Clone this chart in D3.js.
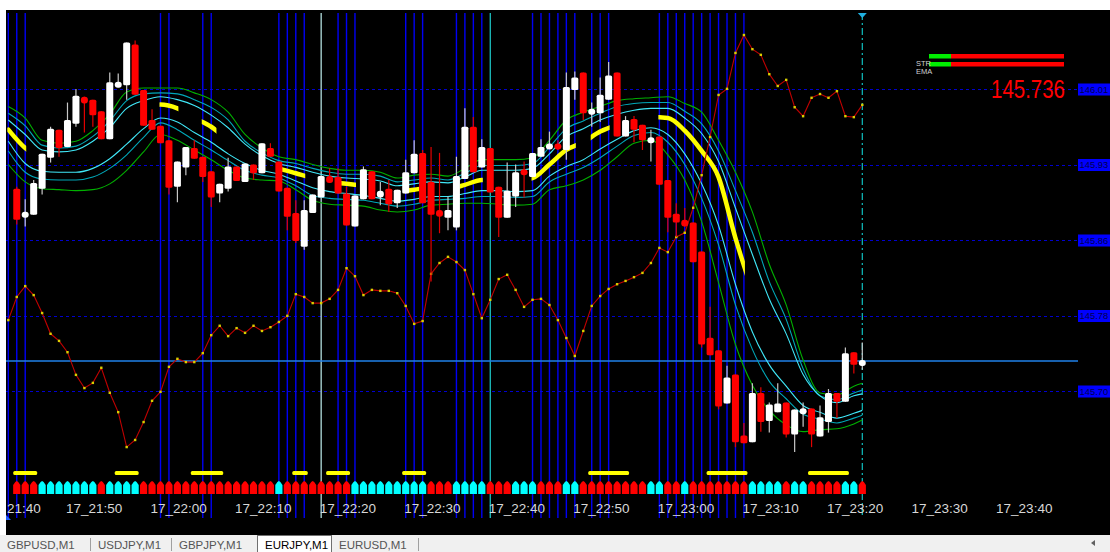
<!DOCTYPE html>
<html><head><meta charset="utf-8">
<script src="https://cdn.jsdelivr.net/npm/d3@7"></script>
<style>html,body{margin:0;padding:0;background:#fff;overflow:hidden}svg{display:block}</style>
</head><body>
<svg id="c" width="1110" height="552"></svg>
<script>
// ---------- DATA ----------
const openP=[145.914,145.885,145.887,145.914,145.946,145.975,145.957,145.981,146.009,146.006,145.994,145.965,146.019,146.021,146.063,146.016,145.985,145.979,145.964,145.916,145.936,145.956,145.947,145.932,145.909,145.914,145.937,145.921,145.939,145.930,145.956,145.942,145.915,145.889,145.854,145.889,145.905,145.927,145.926,145.909,145.875,145.903,145.932,145.905,145.914,145.899,145.909,145.930,145.951,145.921,145.892,145.884,145.874,145.924,145.978,145.936,145.956,145.916,145.884,145.906,145.933,145.926,145.947,145.955,145.960,145.954,146.016,146.034,145.991,145.992,146.006,146.034,145.968,145.986,145.980,145.962,145.968,145.923,145.888,145.882,145.879,145.849,145.760,145.747,145.692,145.722,145.659,145.652,145.703,145.674,145.683,145.693,145.660,145.681,145.687,145.658,145.673,145.703,145.694,145.745,145.732];
const highP=[145.916,145.903,145.923,145.950,145.978,145.975,146.003,146.017,146.009,146.006,145.994,146.034,146.033,146.065,146.067,146.016,145.996,145.979,145.964,145.942,145.957,145.964,145.947,145.932,145.919,145.946,145.937,145.940,145.939,145.961,145.961,145.942,145.915,145.902,145.902,145.908,145.927,145.935,145.935,145.916,145.907,145.937,145.932,145.921,145.923,145.913,145.944,145.964,145.954,145.957,145.951,145.906,145.947,145.997,145.988,145.965,145.956,145.916,145.941,145.939,145.942,145.951,145.965,145.973,145.964,146.034,146.035,146.034,146.003,146.029,146.045,146.034,145.989,145.989,145.980,145.975,145.968,145.923,145.899,145.894,145.879,145.849,145.792,145.747,145.731,145.722,145.672,145.713,145.709,145.693,145.713,145.693,145.686,145.693,145.687,145.690,145.707,145.703,145.750,145.745,145.755];
const lowP=[145.877,145.875,145.887,145.908,145.941,145.947,145.957,145.978,145.972,145.978,145.965,145.965,146.019,146.006,146.011,145.979,145.975,145.961,145.908,145.900,145.928,145.945,145.921,145.895,145.900,145.911,145.922,145.921,145.923,145.930,145.947,145.911,145.871,145.858,145.851,145.889,145.905,145.920,145.909,145.876,145.875,145.903,145.903,145.897,145.890,145.894,145.909,145.930,145.899,145.818,145.868,145.871,145.871,145.924,145.931,145.936,145.910,145.864,145.884,145.895,145.905,145.926,145.947,145.955,145.954,145.944,146.006,145.985,145.978,145.983,146.006,145.968,145.968,145.962,145.954,145.942,145.918,145.869,145.864,145.875,145.838,145.750,145.742,145.686,145.692,145.647,145.651,145.652,145.663,145.662,145.683,145.657,145.642,145.668,145.647,145.658,145.662,145.677,145.694,145.723,145.727];
const closeP=[145.882,145.889,145.920,145.950,145.976,145.956,145.985,146.010,146.002,145.990,145.965,146.024,146.024,146.065,146.011,145.979,145.975,145.961,145.915,145.942,145.957,145.945,145.926,145.905,145.919,145.937,145.922,145.940,145.930,145.961,145.947,145.911,145.885,145.860,145.892,145.908,145.927,145.920,145.909,145.876,145.907,145.934,145.903,145.912,145.898,145.913,145.931,145.950,145.899,145.887,145.885,145.892,145.927,145.978,145.931,145.957,145.910,145.884,145.912,145.931,145.929,145.951,145.957,145.960,145.955,146.019,146.029,145.992,145.996,146.011,146.031,145.968,145.985,145.975,145.964,145.966,145.918,145.884,145.879,145.875,145.838,145.753,145.742,145.689,145.719,145.652,145.651,145.703,145.673,145.691,145.692,145.660,145.686,145.687,145.660,145.678,145.703,145.694,145.744,145.732,145.736];
const oscV=[34.3,39.2,41.5,39.6,35.8,31.4,29.9,27.5,22.7,19.9,21.0,24.2,18.9,14.8,7.4,8.9,12.7,17.2,19.1,24.4,26.1,25.4,25.4,27.3,31.1,33.1,30.9,32.6,31.6,33.1,32.0,32.8,33.9,35.2,39.8,39.2,37.9,37.9,38.8,40.7,45.3,43.6,39.6,40.7,40.5,40.5,40.0,37.3,33.5,34.1,44.1,46.4,47.7,46.6,44.9,39.8,34.7,38.6,43.0,43.9,40.7,37.1,38.6,38.8,37.5,34.3,30.5,26.7,32.0,37.3,39.4,40.9,41.9,42.6,43.4,44.3,46.4,49.6,48.7,51.9,52.8,58.1,65.0,73.1,82.0,83.3,90.9,94.7,91.7,90.5,86.4,83.9,85.2,79.4,77.5,81.4,82.2,81.4,82.8,77.5,77.3,79.9];
const bandBars=[0,2,4,6,8,10,12,14,16,18,20,22,24,26,28,30,32,34,36,38,40,42,44,46,48,50,52,54,56,58,60,62,64,66,68,70,72,74,76,78,80,82,84,86,88,90,92,94,96,98,100,101];
const greenUp=[145.999,145.987,145.964,145.961,145.963,145.974,145.991,146.014,146.018,146.018,146.018,146.013,146.006,145.993,145.970,145.956,145.947,145.944,145.939,145.935,145.933,145.933,145.931,145.925,145.928,145.929,145.927,145.935,145.944,145.944,145.944,145.946,145.964,145.985,145.993,145.999,146.005,146.007,146.008,146.009,146.002,145.993,145.964,145.931,145.890,145.836,145.794,145.737,145.703,145.701,145.710,145.713];
const greenDn=[145.939,145.921,145.914,145.913,145.912,145.913,145.919,145.933,145.952,145.970,145.964,145.954,145.944,145.933,145.925,145.923,145.922,145.913,145.902,145.898,145.897,145.896,145.892,145.890,145.892,145.897,145.898,145.899,145.899,145.898,145.897,145.898,145.913,145.917,145.923,145.933,145.947,145.961,145.964,145.949,145.923,145.880,145.817,145.753,145.711,145.685,145.670,145.663,145.665,145.666,145.671,145.675];
const tealUp=[145.992,145.979,145.959,145.956,145.958,145.968,145.984,146.005,146.012,146.013,146.012,146.006,145.998,145.985,145.963,145.951,145.943,145.940,145.935,145.931,145.929,145.929,145.927,145.921,145.923,145.925,145.923,145.930,145.938,145.938,145.938,145.940,145.957,145.976,145.984,145.992,145.999,146.002,146.003,146.003,145.994,145.981,145.953,145.912,145.869,145.818,145.779,145.728,145.700,145.696,145.703,145.706];
const cyanUp=[145.985,145.970,145.954,145.952,145.954,145.963,145.977,145.997,146.005,146.009,146.006,146.000,145.990,145.977,145.960,145.948,145.940,145.936,145.931,145.927,145.925,145.924,145.922,145.917,145.919,145.921,145.920,145.926,145.933,145.933,145.933,145.935,145.950,145.968,145.976,145.985,145.991,145.995,145.997,145.997,145.987,145.971,145.942,145.894,145.846,145.800,145.764,145.722,145.700,145.693,145.700,145.702];
const cyanDn=[145.963,145.940,145.932,145.931,145.931,145.935,145.945,145.960,145.976,145.987,145.983,145.972,145.962,145.950,145.940,145.933,145.929,145.922,145.915,145.911,145.909,145.907,145.904,145.901,145.903,145.906,145.906,145.909,145.912,145.912,145.911,145.912,145.927,145.937,145.944,145.955,145.965,145.974,145.977,145.970,145.950,145.919,145.876,145.815,145.766,145.732,145.710,145.690,145.683,145.677,145.682,145.685];
const tealDn=[145.953,145.931,145.924,145.923,145.923,145.926,145.935,145.949,145.967,145.982,145.975,145.964,145.954,145.943,145.933,145.928,145.925,145.917,145.907,145.904,145.903,145.902,145.899,145.896,145.898,145.902,145.903,145.904,145.906,145.906,145.905,145.906,145.921,145.929,145.936,145.946,145.958,145.969,145.972,145.962,145.939,145.904,145.856,145.794,145.748,145.715,145.697,145.681,145.676,145.672,145.677,145.680];
const midL=[145.975,145.956,145.946,145.944,145.946,145.954,145.966,145.983,145.995,146.001,145.997,145.987,145.978,145.964,145.952,145.942,145.935,145.930,145.925,145.921,145.919,145.917,145.915,145.911,145.913,145.915,145.914,145.918,145.923,145.923,145.923,145.925,145.939,145.954,145.962,145.973,145.980,145.985,145.988,145.987,145.974,145.953,145.926,145.863,145.809,145.768,145.737,145.711,145.696,145.687,145.691,145.694];
const yellowSpans=[[0,2],[18,20],[23,24.5],[32,35],[39,41],[47,48.5],[53.5,56],[62,67],[69,71],[77,87]];
const signalBars=[[1,3],[13,15],[22,25],[34,35],[38,40],[47,49],[69,73],[83,87],[95,99]];
const markerCol="RRRCCCCCCCRCCCCRRRRRRRRRRRRRRRRCRRRRRRRRCCCCCCCCCRRRCCCCRRRCCCRRRCCRRRRRRRRCCRRCRRRRRRRCCCCRCCRRRRCCR";
const vBlue=[0,1,2,18,19,23,24,32,33,34,35,39,40,41,47,48,49,53,54,55,56,62,63,64,65,66,67,69,70,71,77,78,79,80,81,82,83,84,85,86,87];
const vCyan=[37,57];
const priceTicks=[145.705,145.783,145.861,145.939,146.017];
const lastPrice=145.736;
const tabs=["GBPUSD,M1","USDJPY,M1","GBPJPY,M1","EURJPY,M1","EURUSD,M1"];

// ---------- SCALES ----------
const t0=new Date(2000,0,17,21,43);
const tm=k=>new Date(t0.getTime()+k*60000);
const x=d3.scaleTime().domain([tm(0),tm(101)]).range([8.3,862.3]);
const xb=k=>x(tm(k));
const y=d3.scaleLinear().domain([145.705,146.017]).range([391,89]);
const oy=d3.scaleLinear().domain([0,100]).range([482,10]);
const FONT="'Liberation Sans',Arial,sans-serif";

const svg=d3.select("#c");
svg.append("rect").attr("width",1110).attr("height",552).attr("fill","#fff");
svg.append("rect").attr("x",6).attr("y",10).attr("width",1104).attr("height",525).attr("fill","#000");
const defs=svg.append("defs");
defs.append("clipPath").attr("id","plot").append("rect").attr("x",6).attr("y",10).attr("width",1072).attr("height",525);
const ycp=defs.append("clipPath").attr("id","ycl");
yellowSpans.forEach(s=>ycp.append("rect").attr("x",xb(s[0])-1).attr("y",0).attr("width",xb(s[1])-xb(s[0])+2).attr("height",552));

const g=svg.append("g").attr("clip-path","url(#plot)");
// grid
g.selectAll(".gr").data(priceTicks).enter().append("line")
 .attr("x1",6).attr("x2",1078).attr("y1",d=>Math.round(y(d))+0.5).attr("y2",d=>Math.round(y(d))+0.5)
 .attr("stroke","#0000d0").attr("stroke-dasharray","3,3");
// vertical lines
g.selectAll(".vb").data(vBlue).enter().append("line")
 .attr("x1",d=>xb(d)).attr("x2",d=>xb(d)).attr("y1",13).attr("y2",518).attr("stroke","#0000f4").attr("stroke-width",1.4);
g.selectAll(".vc").data(vCyan).enter().append("line")
 .attr("x1",d=>xb(d)).attr("x2",d=>xb(d)).attr("y1",13).attr("y2",518).attr("stroke",(d,i)=>i?"#20d0d0":"#c0f0f0").attr("stroke-width",1.2);
g.append("line").attr("x1",xb(101)).attr("x2",xb(101)).attr("y1",13).attr("y2",518)
 .attr("stroke","#10c0c0").attr("stroke-width",1.2).attr("stroke-dasharray","7,3,2,3");
g.append("path").attr("d",`M${xb(101)-4.5},13 L${xb(101)+4.5},13 L${xb(101)},18 Z`).attr("fill","#20b0e0");
// price line
g.append("line").attr("x1",6).attr("x2",1078).attr("y1",Math.round(y(lastPrice))).attr("y2",Math.round(y(lastPrice)))
 .attr("stroke","#1f80e8").attr("stroke-width",1.6);

// bands
const lineGen=arr=>d3.line().x((d,i)=>xb(bandBars[i])).y(d=>y(d)).curve(d3.curveMonotoneX)(arr);
[[greenUp,"#00b000"],[tealUp,"#00a8b8"],[cyanUp,"#40e8f8"],[cyanDn,"#40e8f8"],[tealDn,"#00a8b8"],[greenDn,"#00b000"]].forEach(([a,c])=>{
  g.append("path").attr("d",lineGen(a)).attr("fill","none").attr("stroke",c).attr("stroke-width",1.1);
});
g.append("path").attr("d",lineGen(midL)).attr("fill","none").attr("stroke","#ffff00").attr("stroke-width",4.5)
 .attr("stroke-linecap","round").attr("clip-path","url(#ycl)");

// oscillator
g.append("path").attr("d",d3.line().x((d,i)=>xb(i)).y(d=>oy(d))(oscV)).attr("fill","none").attr("stroke","#c00000").attr("stroke-width",1.1);
g.selectAll(".od").data(oscV).enter().append("rect").attr("x",(d,i)=>xb(i)-1.2).attr("y",d=>oy(d)-1.2).attr("width",2.4).attr("height",2.4).attr("fill","#d8d000");

// candles
const candles=openP.map((o,i)=>({k:i+1,o,h:highP[i],l:lowP[i],c:closeP[i]}));
const cg=g.selectAll(".cd").data(candles).enter().append("g");
cg.append("line").attr("x1",d=>xb(d.k)).attr("x2",d=>xb(d.k)).attr("y1",d=>y(d.h)).attr("y2",d=>y(d.l))
 .attr("stroke",d=>d.c>=d.o?"#c8c8c8":"#e00000").attr("stroke-width",1.2);
cg.append("rect").attr("x",d=>xb(d.k)-3.5).attr("width",7)
 .attr("y",d=>{const t=y(Math.max(d.o,d.c)),b=y(Math.min(d.o,d.c));return b-t<6?(t+b)/2-3:t;})
 .attr("height",d=>Math.max(6,y(Math.min(d.o,d.c))-y(Math.max(d.o,d.c))))
 .attr("rx",d=>(y(Math.min(d.o,d.c))-y(Math.max(d.o,d.c)))<7?3:1.5)
 .attr("fill",d=>d.c>=d.o?"#ffffff":"#ff0000");

// signal bars
g.selectAll(".sb").data(signalBars).enter().append("rect").attr("x",d=>xb(d[0])-3.5).attr("width",d=>xb(d[1])-xb(d[0])+7)
 .attr("y",471).attr("height",4).attr("rx",1.5).attr("fill","#ffff00");
// markers
g.selectAll(".mk").data(markerCol.split("")).enter().append("path")
 .attr("d",(d,i)=>{const cx=xb(i+1);return `M${cx-3.6},494 L${cx-3.6},485 L${cx-1.5},482 L${cx},481 L${cx+1.5},482 L${cx+3.6},485 L${cx+3.6},494 Z`;})
 .attr("fill",d=>d==="R"?"#ff0000":"#00ffff");

// time axis: the first label only shows its visible part, as in the terminal
const tickT=d3.range(-3,118,10).map(tm);
const fmtFull=d3.timeFormat("%d_%H:%M"), fmtShort=d3.timeFormat("%H:%M");
const ax=svg.append("g").attr("transform","translate(0,500)")
 .call(d3.axisBottom(x).tickValues(tickT).tickFormat(d=>x(d)<20?fmtShort(d):fmtFull(d)).tickSize(0).tickPadding(3));
ax.select(".domain").remove();
ax.selectAll("text").attr("text-anchor","start").attr("x",d=>x(d)<20?6.5-x(d):-2).attr("fill","#d8d8d8")
 .style("font-family",FONT).style("font-size","13.5px");
svg.append("path").attr("d","M6,515 L11,520 L6,520 Z").attr("fill","#2060ff");

// price axis (labels shown truncated to two decimals as in the terminal)
const trunc2=v=>(Math.floor(v*100+1e-6)/100).toFixed(2);
const pa=svg.append("g").attr("transform","translate(1078,0)")
 .call(d3.axisRight(y).tickValues(priceTicks).tickFormat(trunc2).tickSize(0).tickPadding(1.5));
pa.select(".domain").remove();
pa.selectAll(".tick").insert("rect","text").attr("x",0).attr("y",-6).attr("width",32).attr("height",12).attr("fill","#0000ff");
pa.selectAll("text").attr("fill","#000050").style("font-family",FONT).style("font-size","9.4px");

// legend top-right
[54,62].forEach(yy=>{
  svg.append("rect").attr("x",929).attr("y",yy).attr("width",22).attr("height",4.5).attr("fill","#00ee00");
  svg.append("rect").attr("x",951).attr("y",yy).attr("width",113).attr("height",4.5).attr("fill","#ff0000");
});
svg.append("text").attr("x",916).attr("y",66).text("STR").attr("fill","#d0d0d0").style("font-family",FONT).style("font-size","7.5px");
svg.append("text").attr("x",916).attr("y",74).text("EMA").attr("fill","#d0d0d0").style("font-family",FONT).style("font-size","7.5px");
svg.append("text").attr("x",991).attr("y",98).text(d3.format(".3f")(lastPrice)).attr("fill","#ff0000")
 .attr("textLength",74).attr("lengthAdjust","spacingAndGlyphs").style("font-family",FONT).style("font-size","25px");

// tab bar
svg.append("rect").attr("x",0).attr("y",535).attr("width",1110).attr("height",17).attr("fill","#f0f0f0");
const tabX=[0,90,171,257,331,418];
tabs.forEach((t,i)=>{
  const active=i===3;
  if(active){svg.append("rect").attr("x",tabX[i]+0.5).attr("y",535.5).attr("width",tabX[i+1]-tabX[i]).attr("height",17).attr("fill","#ffffff").attr("stroke","#707070");}
  svg.append("text").attr("x",tabX[i]+(i===0?7:8)).attr("y",549).text(t).attr("fill",active?"#000":"#555")
   .style("font-family",FONT).style("font-size","11.5px");
  if(!active&&i<2) svg.append("line").attr("x1",tabX[i+1]+0.5).attr("x2",tabX[i+1]+0.5).attr("y1",538).attr("y2",551).attr("stroke","#a0a0a0");
});
svg.append("line").attr("x1",418.5).attr("x2",418.5).attr("y1",538).attr("y2",551).attr("stroke","#a0a0a0");
svg.append("path").attr("d","M1091,543 L1095,540 L1095,546 Z").attr("fill","#606060");
</script>
</body></html>
